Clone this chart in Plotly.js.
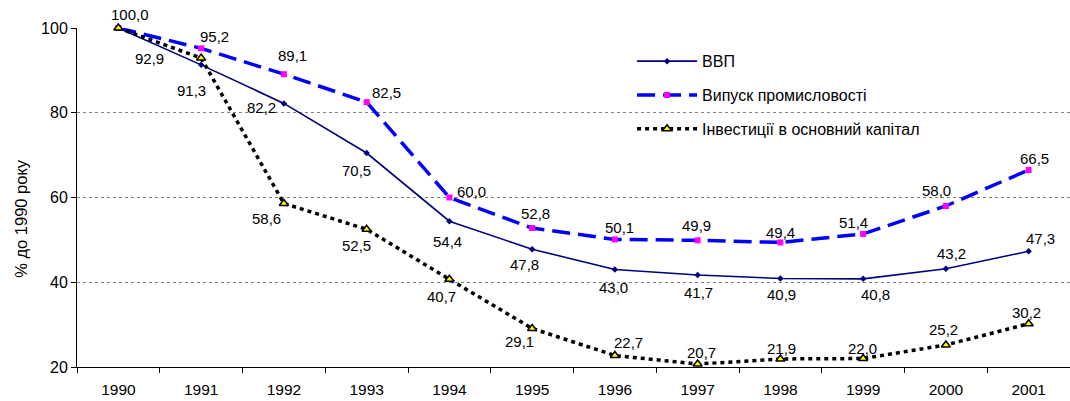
<!DOCTYPE html>
<html>
<head>
<meta charset="utf-8">
<script src="https://cdn.plot.ly/plotly-3.0.1.min.js"></script>
<style>html,body{margin:0;padding:0;background:#fff}</style>
</head>
<body>
<div id="chart" style="width:1070px;height:401px"></div>
<script>
var years = ['1990','1991','1992','1993','1994','1995','1996','1997','1998','1999','2000','2001'];
var gdp = [100.0, 91.3, 82.2, 70.5, 54.4, 47.8, 43.0, 41.7, 40.9, 40.8, 43.2, 47.3];
var industry = [100.0, 95.2, 89.1, 82.5, 60.0, 52.8, 50.1, 49.9, 49.4, 51.4, 58.0, 66.5];
var investment = [100.0, 92.9, 58.6, 52.5, 40.7, 29.1, 22.7, 20.7, 21.9, 22.0, 25.2, 30.2];
var seriesNames = ['ВВП', 'Випуск промисловості', 'Інвестиції в основний капітал'];
var yTitle = '% до 1990 року';

// label placement offsets in px (dx right, dy down); null = no label
var gdpLabelOff = [null,[-10,26],[-22,4],[-10,17],[-2,20],[-8,15],[-1,18],[1,17],[1,16],[12,16],[6,-15],[12,-13]];
var indLabelOff = [null,[13,-12],[9,-19],[20,-10],[22,-6],[3,-15],[5,-12],[-1,-15],[0,-10],[-10,-11],[-9,-15],[6,-11]];
var invLabelOff = [[12,-14],[-52,0],[-17,15],[-10,16],[-8,17],[-13,13],[14,-13],[4,-12],[1,-10],[-1,-10],[-2,-15],[-2,-11]];

var fontFam = 'Arial, "Liberation Sans", sans-serif';

var traces = [
  {x: years, y: gdp, name: seriesNames[0], type: 'scatter', mode: 'lines+markers',
   line: {color: '#000080', width: 1.6}, marker: {symbol: 'diamond', size: 5, color: '#000080'},
   legendgroup: 'a', cliponaxis: false},
  {x: years, y: industry, name: seriesNames[1], type: 'scatter', mode: 'lines+markers',
   line: {color: '#0000FF', width: 3.5, dash: '18px,8px'}, marker: {symbol: 'square', size: 6, color: '#FF00FF'},
   legendgroup: 'b', cliponaxis: false},
  {x: years, y: investment, name: seriesNames[2], type: 'scatter', mode: 'lines+markers',
   line: {color: '#000000', width: 3.5, dash: '4px,4px'},
   marker: {symbol: 'triangle-up', size: 8, color: '#FFFF00', line: {color: '#000000', width: 1.5}},
   legendgroup: 'c', cliponaxis: false}
];

function fmt(v) { return v.toFixed(1).replace('.', ','); }
var annotations = [];
function addLabels(vals, offs) {
  for (var i = 0; i < vals.length; i++) {
    if (!offs[i]) continue;
    annotations.push({x: i, y: vals[i], xref: 'x', yref: 'y', text: fmt(vals[i]),
      showarrow: false, xanchor: 'center', yanchor: 'middle',
      xshift: offs[i][0], yshift: -offs[i][1],
      font: {family: fontFam, size: 15, color: '#000'}});
  }
}
addLabels(gdp, gdpLabelOff);
addLabels(industry, indLabelOff);
addLabels(investment, invLabelOff);

// y-axis title placed as a rotated annotation
annotations.push({x: -0.0564, y: 0.44, xref: 'paper', yref: 'paper', text: yTitle, textangle: -90,
  showarrow: false, xanchor: 'center', yanchor: 'middle',
  font: {family: fontFam, size: 16.5, color: '#000'}});

var layout = {
  width: 1070, height: 401,
  margin: {l: 77, r: 0, t: 28, b: 34},
  paper_bgcolor: '#fff', plot_bgcolor: '#fff',
  font: {family: fontFam, size: 16, color: '#000'},
  showlegend: true,
  legend: {x: 0.559, y: 0.952, xanchor: 'left', yanchor: 'top', bgcolor: 'rgba(0,0,0,0)',
           traceorder: 'grouped', tracegroupgap: 10, itemwidth: 60,
           font: {family: fontFam, size: 16, color: '#000'}},
  xaxis: {type: 'category', range: [-0.5, 11.5], showline: true, linecolor: '#000', linewidth: 1,
          ticks: 'outside', ticklen: 5, tickcolor: '#000', tickson: 'boundaries', ticklabelstandoff: 8,
          showgrid: false, zeroline: false, tickfont: {family: fontFam, size: 15.5, color: '#000'}},
  yaxis: {range: [20, 100], tickvals: [20, 40, 60, 80, 100], showline: true, linecolor: '#000', linewidth: 1,
          ticks: 'outside', ticklen: 5, tickcolor: '#000',
          showgrid: true, gridcolor: '#808080', griddash: 'dot', gridwidth: 1, zeroline: false,
          tickfont: {family: fontFam, size: 16, color: '#000'}},
  annotations: annotations
};

Plotly.newPlot('chart', traces, layout, {displayModeBar: false});
</script>
</body>
</html>
